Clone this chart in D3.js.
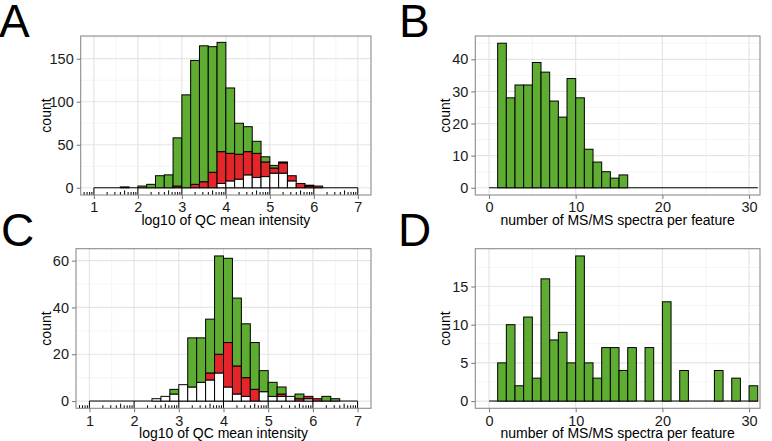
<!DOCTYPE html>
<html><head><meta charset="utf-8">
<script src="https://cdn.jsdelivr.net/npm/d3@7"></script>
<style>
body{margin:0;background:#fff}
svg{display:block}
text{font-family:"Liberation Sans",Arial,Helvetica,sans-serif}
</style>
</head><body>
<svg id="chart" width="772" height="441"></svg>
<script>
// ---------- DATA ----------
// log10 intensity histogram bins (bin start, width 0.2)
const intensityBins = [1.0,1.2,1.4,1.6,1.8,2.0,2.2,2.4,2.6,2.8,3.0,3.2,3.4,3.6,3.8,4.0,4.2,4.4,4.6,4.8,5.0,5.2,5.4,5.6,5.8,6.0,6.2,6.4,6.6,6.8];
const intensityBinWidth = 0.2;
// Panel A stacked counts (bottom -> top): white, red, green
const whiteA = [0,0,0,0,0,0,0,0,0,0,0,0,0,0,5,8,10,15,12,13,17,17,8,0,0,0,0,0,0,0];
const redA   = [0,0,0,0,0,0,0,0,0,2,0,4,7,18,37,32,29,27,28,17,6,12,6,5,2,2,0,0,0,0];
const greenA = [0,0,0,1,0,2,4,14,15,56,108,144,158,146,127,76,36,29,14,6,3,1,0,0,1,0,0,0,0,0];
// Panel C stacked counts
const whiteC = [0,0,0,0,0,0,0,1,2,3,7,6,8,9,12,6,3,2,0,4,2,2,2,0,1,0,0,0,0,0];
const redC   = [0,0,0,0,0,0,0,0,0,0,0,0,0,3,8,19,12,8,5,0,0,1,0,1,1,1,0,0,0,0];
const greenC = [0,0,0,0,0,0,0,0,0,2,0,21,19,23,42,36,29,23,20,9,6,3,0,2,0,0,2,1,0,0];
// MS/MS spectra per feature bins (bin start, width 1)
const spectraBins = [0,1,2,3,4,5,6,7,8,9,10,11,12,13,14,15,16,17,18,19,20,21,22,23,24,25,26,27,28,29,30];
const spectraBinWidth = 1;
const countsB = [0,45,28,32,32,39,36,27,22,34,28,12,8,5,3,4,0,0,0,0,0,0,0,0,0,0,0,0,0,0,0];
const countsD = [0,5,10,2,11,3,16,8,9,5,19,5,3,7,7,4,7,0,7,0,13,0,4,0,0,0,4,0,3,0,2];
// tick labels
const intensityTicks = [1,2,3,4,5,6,7];
const spectraTicks = [0,10,20,30];
const yTicksA = [0,50,100,150];
const yTicksB = [0,10,20,30,40];
const yTicksC = [0,20,40,60];
const yTicksD = [0,5,10,15];
const panelLetters = ["A","B","C","D"];
const xTitleIntensity = "log10 of QC mean intensity";
const xTitleSpectra = "number of MS/MS spectra per feature";
const yTitle = "count";

// ---------- STYLE ----------
const GREEN = "#5fac32", RED = "#e4262b", WHITE = "#ffffff";
const svg = d3.select("#chart");

function midpoints(arr, dom){
  const out=[];
  const step = arr[1]-arr[0];
  const all = [arr[0]-step, ...arr, arr[arr.length-1]+step];
  for(let i=0;i<all.length-1;i++){
    const m=(all[i]+all[i+1])/2;
    if(m>dom[0] && m<dom[1]) out.push(m);
  }
  return out;
}

function drawPanel(cfg){
  const g = svg.append("g");
  const x = d3.scaleLinear().domain(cfg.xdom).range([cfg.left, cfg.right]);
  const y = d3.scaleLinear().domain(cfg.ydom).range([cfg.bottom, cfg.top]);
  g.append("rect").attr("x",cfg.left).attr("y",cfg.top)
    .attr("width",cfg.right-cfg.left).attr("height",cfg.bottom-cfg.top).attr("fill","#fff");
  const xMinor = midpoints(cfg.xticks, cfg.xdom), yMinor = midpoints(cfg.yticks, cfg.ydom);
  g.selectAll(null).data(xMinor).join("line")
    .attr("x1",d=>x(d)).attr("x2",d=>x(d)).attr("y1",cfg.top).attr("y2",cfg.bottom)
    .attr("stroke","#f2f2f2").attr("stroke-width",0.8);
  g.selectAll(null).data(yMinor).join("line")
    .attr("y1",d=>y(d)).attr("y2",d=>y(d)).attr("x1",cfg.left).attr("x2",cfg.right)
    .attr("stroke","#f2f2f2").attr("stroke-width",0.8);
  g.selectAll(null).data(cfg.xticks).join("line")
    .attr("x1",d=>x(d)).attr("x2",d=>x(d)).attr("y1",cfg.top).attr("y2",cfg.bottom)
    .attr("stroke","#e5e5e5").attr("stroke-width",1.2);
  g.selectAll(null).data(cfg.yticks).join("line")
    .attr("y1",d=>y(d)).attr("y2",d=>y(d)).attr("x1",cfg.left).attr("x2",cfg.right)
    .attr("stroke","#e5e5e5").attr("stroke-width",1.2);

  const bins = cfg.bins, bw = cfg.binWidth;
  g.append("line")
    .attr("x1",x(bins[0])).attr("x2",x(bins[bins.length-1]+bw))
    .attr("y1",y(0)).attr("y2",y(0)).attr("stroke","#000").attr("stroke-width",1);

  const segs=[];
  bins.forEach((b,i)=>{
    let base=0;
    cfg.layers.forEach(L=>{
      const v=L.values[i];
      if(v>0) segs.push({x0:b,x1:b+bw,y0:base,y1:base+v,fill:L.fill});
      base+=v;
    });
  });
  g.selectAll(null).data(segs).join("rect")
    .attr("x",d=>x(d.x0)).attr("width",d=>x(d.x1)-x(d.x0))
    .attr("y",d=>y(d.y1)).attr("height",d=>y(d.y0)-y(d.y1))
    .attr("fill",d=>d.fill).attr("stroke","#000").attr("stroke-width",1);

  if(cfg.logticks){
    const lt=[];
    for(let dec=0;dec<8;dec++){
      for(let k=1;k<=9;k++){
        const v=dec+Math.log10(k);
        if(v>cfg.xdom[0] && v<cfg.xdom[1]) lt.push({v:v, len: k===1 ? (cfg.bottom-y(0)) : (k===5?4.6:3)});
      }
    }
    g.selectAll(null).data(lt).join("line")
      .attr("x1",d=>x(d.v)).attr("x2",d=>x(d.v))
      .attr("y1",cfg.bottom).attr("y2",d=>cfg.bottom-d.len)
      .attr("stroke","#000").attr("stroke-width",1);
  }

  g.append("rect").attr("x",cfg.left).attr("y",cfg.top)
    .attr("width",cfg.right-cfg.left).attr("height",cfg.bottom-cfg.top)
    .attr("fill","none").attr("stroke","#8c8c8c").attr("stroke-width",1.1);

  const ax = g.append("g").attr("transform",`translate(0,${cfg.bottom})`)
    .call(d3.axisBottom(x).tickValues(cfg.xticks).tickSize(4).tickPadding(3).tickFormat(d3.format("d")));
  const ay = g.append("g").attr("transform",`translate(${cfg.left},0)`)
    .call(d3.axisLeft(y).tickValues(cfg.yticks).tickSize(4).tickPadding(3).tickFormat(d3.format("d")));
  [ax,ay].forEach(a=>{
    a.select(".domain").remove();
    a.selectAll(".tick line").attr("stroke","#7f7f7f").attr("stroke-width",1.1);
    a.selectAll(".tick text").attr("fill","#1a1a1a").style("font-size","14.5px")
      .style("font-family",'"Liberation Sans",Arial,sans-serif');
  });
  ax.selectAll(".tick text").attr("dy","0.71em");

  g.append("text").attr("x",(cfg.left+cfg.right)/2).attr("y",cfg.bottom+29.5)
    .attr("text-anchor","middle").style("font-size","14px").attr("fill","#000").text(cfg.xtitle);
  g.append("text").attr("transform",`translate(${cfg.ytitleX},${(cfg.top+cfg.bottom)/2}) rotate(-90)`)
    .attr("text-anchor","middle").style("font-size","14px").attr("fill","#000").text(yTitle);
  g.append("text").attr("x",cfg.letterX).attr("y",cfg.letterY)
    .style("font-size","46px").attr("fill","#000").text(cfg.letter);
}

drawPanel({letter:panelLetters[0],letterX:-1,letterY:36.5,
  left:80.7,right:371,top:36,bottom:195,xdom:[0.7,7.3],ydom:[-8.4,176.4],
  xticks:intensityTicks,yticks:yTicksA,bins:intensityBins,binWidth:intensityBinWidth,
  layers:[{values:whiteA,fill:WHITE},{values:redA,fill:RED},{values:greenA,fill:GREEN}],
  logticks:true,xtitle:xTitleIntensity,ytitleX:51});
drawPanel({letter:panelLetters[1],letterX:399,letterY:36.5,
  left:475.3,right:760,top:36,bottom:195,xdom:[-1.58,31.26],ydom:[-2.25,47.25],
  xticks:spectraTicks,yticks:yTicksB,bins:spectraBins,binWidth:spectraBinWidth,
  layers:[{values:countsB,fill:GREEN}],
  logticks:false,xtitle:xTitleSpectra,ytitleX:450});
drawPanel({letter:panelLetters[2],letterX:1,letterY:245.5,
  left:76,right:371,top:248.7,bottom:408.3,xdom:[0.7,7.3],ydom:[-3.1,65.1],
  xticks:intensityTicks,yticks:yTicksC,bins:intensityBins,binWidth:intensityBinWidth,
  layers:[{values:whiteC,fill:WHITE},{values:redC,fill:RED},{values:greenC,fill:GREEN}],
  logticks:true,xtitle:xTitleIntensity,ytitleX:51});
drawPanel({letter:panelLetters[3],letterX:398,letterY:245.5,
  left:475.3,right:760,top:248.7,bottom:408.3,xdom:[-1.58,31.26],ydom:[-0.95,19.95],
  xticks:spectraTicks,yticks:yTicksD,bins:spectraBins,binWidth:spectraBinWidth,
  layers:[{values:countsD,fill:GREEN}],
  logticks:false,xtitle:xTitleSpectra,ytitleX:450});
</script>
</body></html>
